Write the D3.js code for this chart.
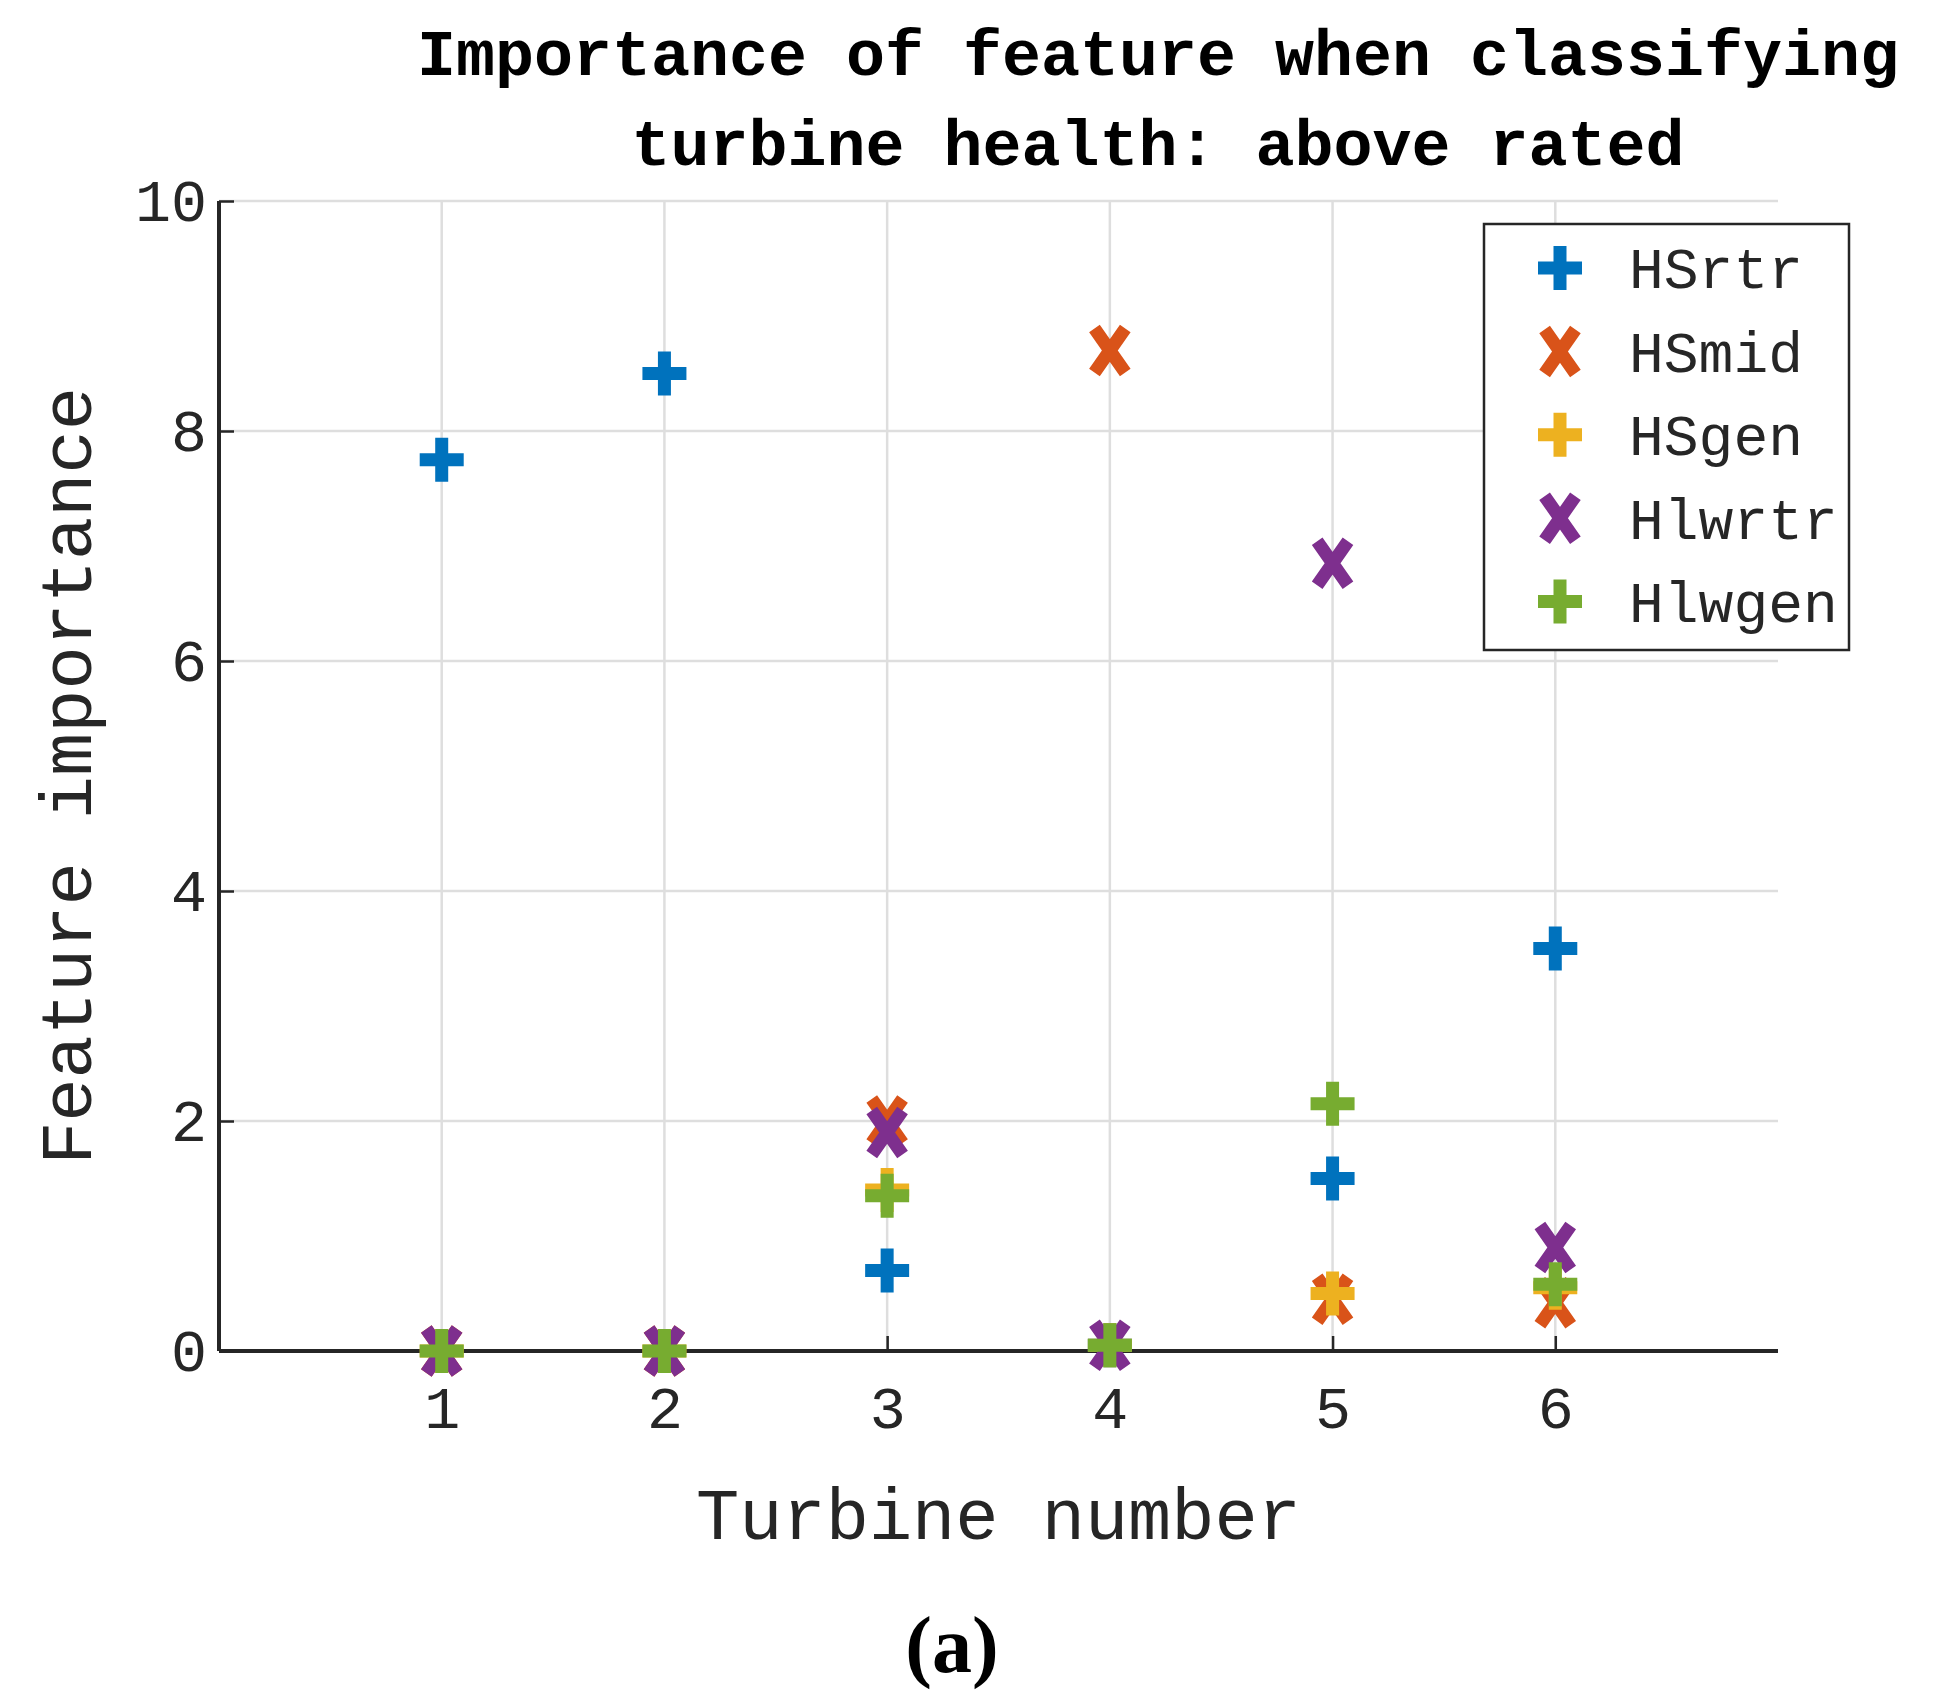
<!DOCTYPE html><html><head><script src="https://cdn.jsdelivr.net/npm/d3@7"></script>
<style>body{margin:0;background:#fff}</style></head><body><svg id="c" width="1938" height="1707"></svg>
<script>
const turbines=[1,2,3,4,5,6];
const seriesNames=["HSrtr","HSmid","HSgen","Hlwrtr","Hlwgen"];
const seriesColors=["#0072BD","#D95319","#EDB120","#7E2F8E","#77AC30"];
const seriesShapes=["plus","x","plus","x","plus"];
const HSrtr=[7.75,8.5,0.7,0.05,1.5,3.5];
const HSmid=[0,0,2.0,8.7,0.45,0.42];
const HSgen=[0,0,1.4,0.05,0.5,0.55];
const Hlwrtr=[0,0,1.9,0.05,6.85,0.9];
const Hlwgen=[0,0,1.35,0.05,2.15,0.58];
const seriesValues=[HSrtr,HSmid,HSgen,Hlwrtr,Hlwgen];
const yTicks=[0,2,4,6,8,10];

const svg=d3.select("#c");
const L=219,R=1778,T=201,B=1351;
const x=d3.scaleLinear().domain([0,7]).range([L,R]);
const y=d3.scaleLinear().domain([0,10]).range([B,T]);
const mono="'Liberation Mono',monospace";
svg.append("g").selectAll("line").data(turbines).join("line").attr("x1",d=>x(d)).attr("x2",d=>x(d)).attr("y1",T).attr("y2",B).attr("stroke","#dedede").attr("stroke-width",2.5);
svg.append("g").selectAll("line").data(yTicks).join("line").attr("x1",L).attr("x2",R).attr("y1",d=>y(d)).attr("y2",d=>y(d)).attr("stroke","#dedede").attr("stroke-width",2.5);
const xa=svg.append("g").attr("transform",`translate(0,${B})`).call(d3.axisBottom(x).tickValues(turbines).tickSize(-15).tickPadding(34).tickFormat(d3.format("d")));
const ya=svg.append("g").attr("transform",`translate(${L},0)`).call(d3.axisLeft(y).tickValues(yTicks).tickSize(-15).tickPadding(12));
[xa,ya].forEach(a=>{a.select(".domain").attr("stroke","#262626").attr("stroke-width",4);a.selectAll(".tick line").attr("stroke","#262626").attr("stroke-width",2.5);a.selectAll("text").attr("font-family",mono).attr("font-size",60).attr("fill","#262626");});
xa.select(".domain").attr("d",`M${L},0H${R}`);
ya.select(".domain").attr("d",`M0,${T}V${B}`);
function marker(g,shape,color){
  const s=22;
  if(shape==="plus") g.append("path").attr("d",`M${-s},0H${s}M0,${-s}V${s}`).attr("stroke",color).attr("stroke-width",13).attr("fill","none");
  else g.append("path").attr("d",`M${-s*0.7},${-s}L${s*0.7},${s}M${s*0.7},${-s}L${-s*0.7},${s}`).attr("stroke",color).attr("stroke-width",13).attr("fill","none");
}
seriesValues.forEach((vals,i)=>{
  vals.forEach((v,j)=>{const g=svg.append("g").attr("transform",`translate(${x(turbines[j])},${y(v)})`);marker(g,seriesShapes[i],seriesColors[i]);});
});
svg.append("rect").attr("x",1484).attr("y",224).attr("width",365).attr("height",426).attr("fill","#fff").attr("stroke","#262626").attr("stroke-width",2.5);
seriesNames.forEach((n,i)=>{
  const yy=268+i*83.4;
  marker(svg.append("g").attr("transform",`translate(1560,${yy})`),seriesShapes[i],seriesColors[i]);
  svg.append("text").attr("x",1629).attr("y",yy).attr("dy","0.35em").attr("font-family",mono).attr("font-size",58).attr("fill","#262626").text(n);
});
svg.append("text").attr("x",1158).attr("y",52).attr("dy","0.35em").attr("text-anchor","middle").attr("font-family",mono).attr("font-weight","bold").attr("font-size",65).text("Importance of feature when classifying");
svg.append("text").attr("x",1158).attr("y",142).attr("dy","0.35em").attr("text-anchor","middle").attr("font-family",mono).attr("font-weight","bold").attr("font-size",65).text("turbine health: above rated");
svg.append("text").attr("x",(L+R)/2).attr("y",1514).attr("dy","0.35em").attr("text-anchor","middle").attr("font-family",mono).attr("font-size",72).attr("fill","#262626").text("Turbine number");
svg.append("text").attr("transform",`translate(66,${(T+B)/2}) rotate(-90)`).attr("dy","0.35em").attr("text-anchor","middle").attr("font-family",mono).attr("font-size",72).attr("fill","#262626").text("Feature importance");
svg.append("text").attr("x",952).attr("y",1644).attr("dy","0.35em").attr("text-anchor","middle").attr("font-family","'Liberation Serif',serif").attr("font-weight","bold").attr("font-size",80).text("(a)");
</script></body></html>
